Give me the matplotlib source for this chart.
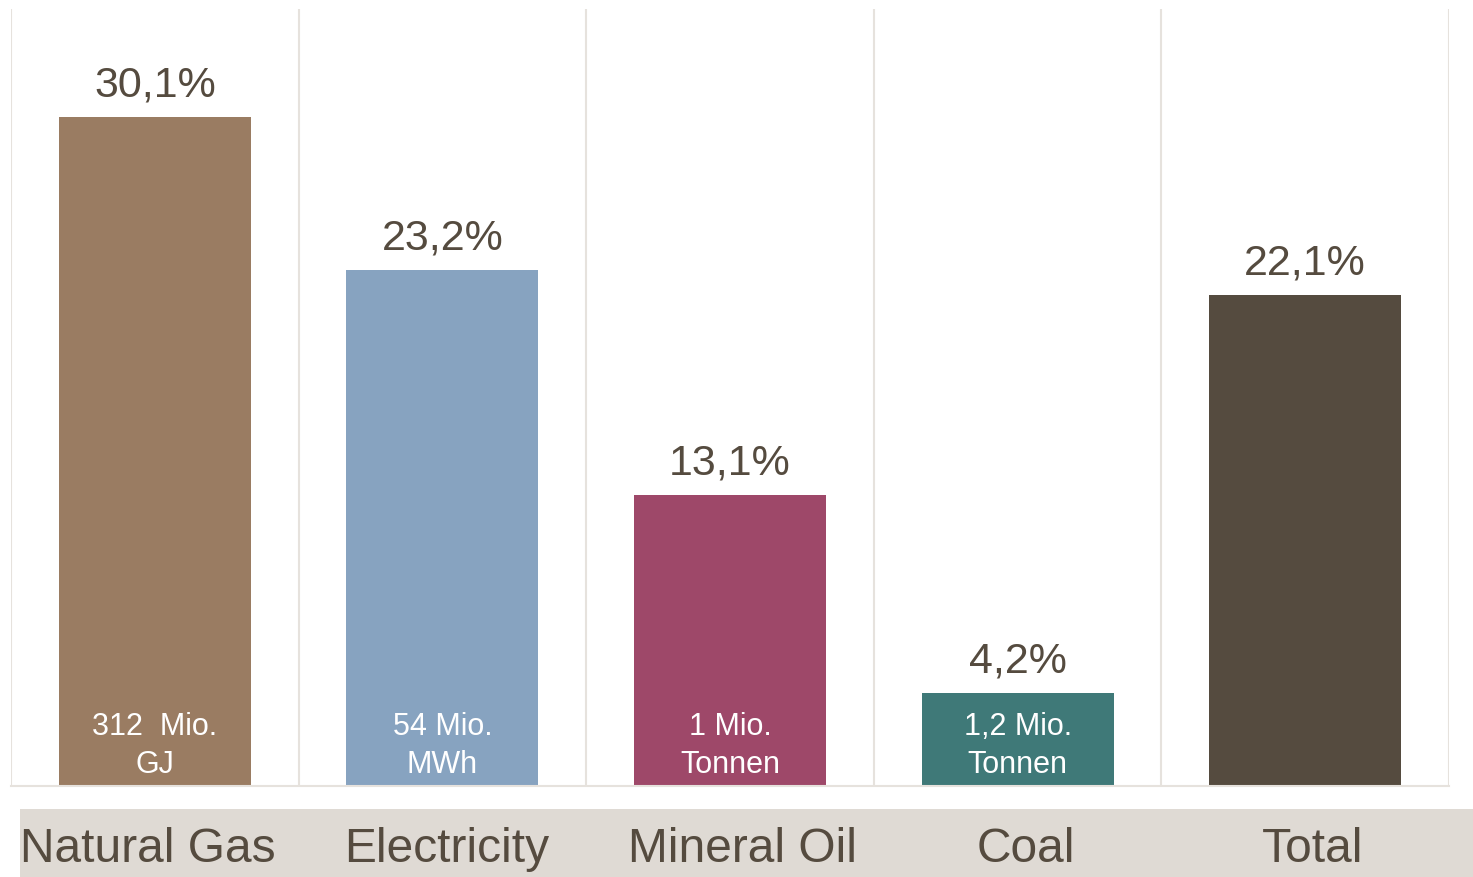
import matplotlib
matplotlib.use("Agg")
import matplotlib.pyplot as plt
import matplotlib.transforms as mtransforms
from matplotlib.patches import Rectangle
import numpy as np

plt.rcParams["font.family"] = ["Liberation Sans", "DejaVu Sans"]

categories = ["Natural Gas", "Electricity", "Mineral Oil", "Coal", "Total"]
shares = [30.1, 23.2, 13.1, 4.2, 22.1]
share_labels = ["30,1%", "23,2%", "13,1%", "4,2%", "22,1%"]
inner_labels = ["312  Mio.\nGJ", "54 Mio.\nMWh", "1 Mio.\nTonnen", "1,2 Mio.\nTonnen", ""]
colors = ["#9A7C62", "#87A3C0", "#9E4869", "#3F7978", "#554B3F"]

txt_col = "#554B3F"
grid_col = "#E6E2DD"

W, H = 1473, 878
fig = plt.figure(figsize=(W / 100, H / 100), dpi=100)
ax = fig.add_axes([11 / W, (H - 787) / H, (1449 - 11) / W, (787 - 10) / H])
ax.set_zorder(1)

# beige band behind the category labels
fig.patches.append(Rectangle((20 / W, 0), (W - 20) / W, 68 / H,
                             transform=fig.transFigure, facecolor="#DFDAD4",
                             edgecolor="none", zorder=0))

x = np.arange(len(categories))
ax.bar(x, shares, width=0.667, color=colors, zorder=2)

for xi, v, s in zip(x, shares, share_labels):
    ax.text(xi, v + 0.55, s, ha="center", va="bottom", fontsize=31, color=txt_col)

for xi, s in zip(x, inner_labels):
    ax.text(xi, 0.3, s, ha="center", va="bottom", fontsize=22, color="white",
            linespacing=1.36, zorder=3)

ax.set_xlim(-0.5, len(categories) - 0.5)
ax.set_ylim(0, 34.95)
ax.vlines(np.arange(len(categories) + 1) - 0.5, 0, 34.95, color=grid_col,
          linewidth=1.5, zorder=1)

for side in ["top", "right", "left"]:
    ax.spines[side].set_visible(False)
ax.spines["bottom"].set_color(grid_col)
ax.spines["bottom"].set_linewidth(1.5)

ax.set_yticks([])
ax.set_xticks(x)
ax.set_xticklabels(categories, fontsize=34.5, color=txt_col)
ax.tick_params(axis="x", length=0, pad=29)

# the labels in the band are not quite centred under the bars
shift_px = [-7, 4, 13, 8, 7]
for lab, dx in zip(ax.get_xticklabels(), shift_px):
    lab.set_transform(lab.get_transform() +
                      mtransforms.ScaledTranslation(dx / 100, 0, fig.dpi_scale_trans))

fig.savefig("out.png", dpi=100)
